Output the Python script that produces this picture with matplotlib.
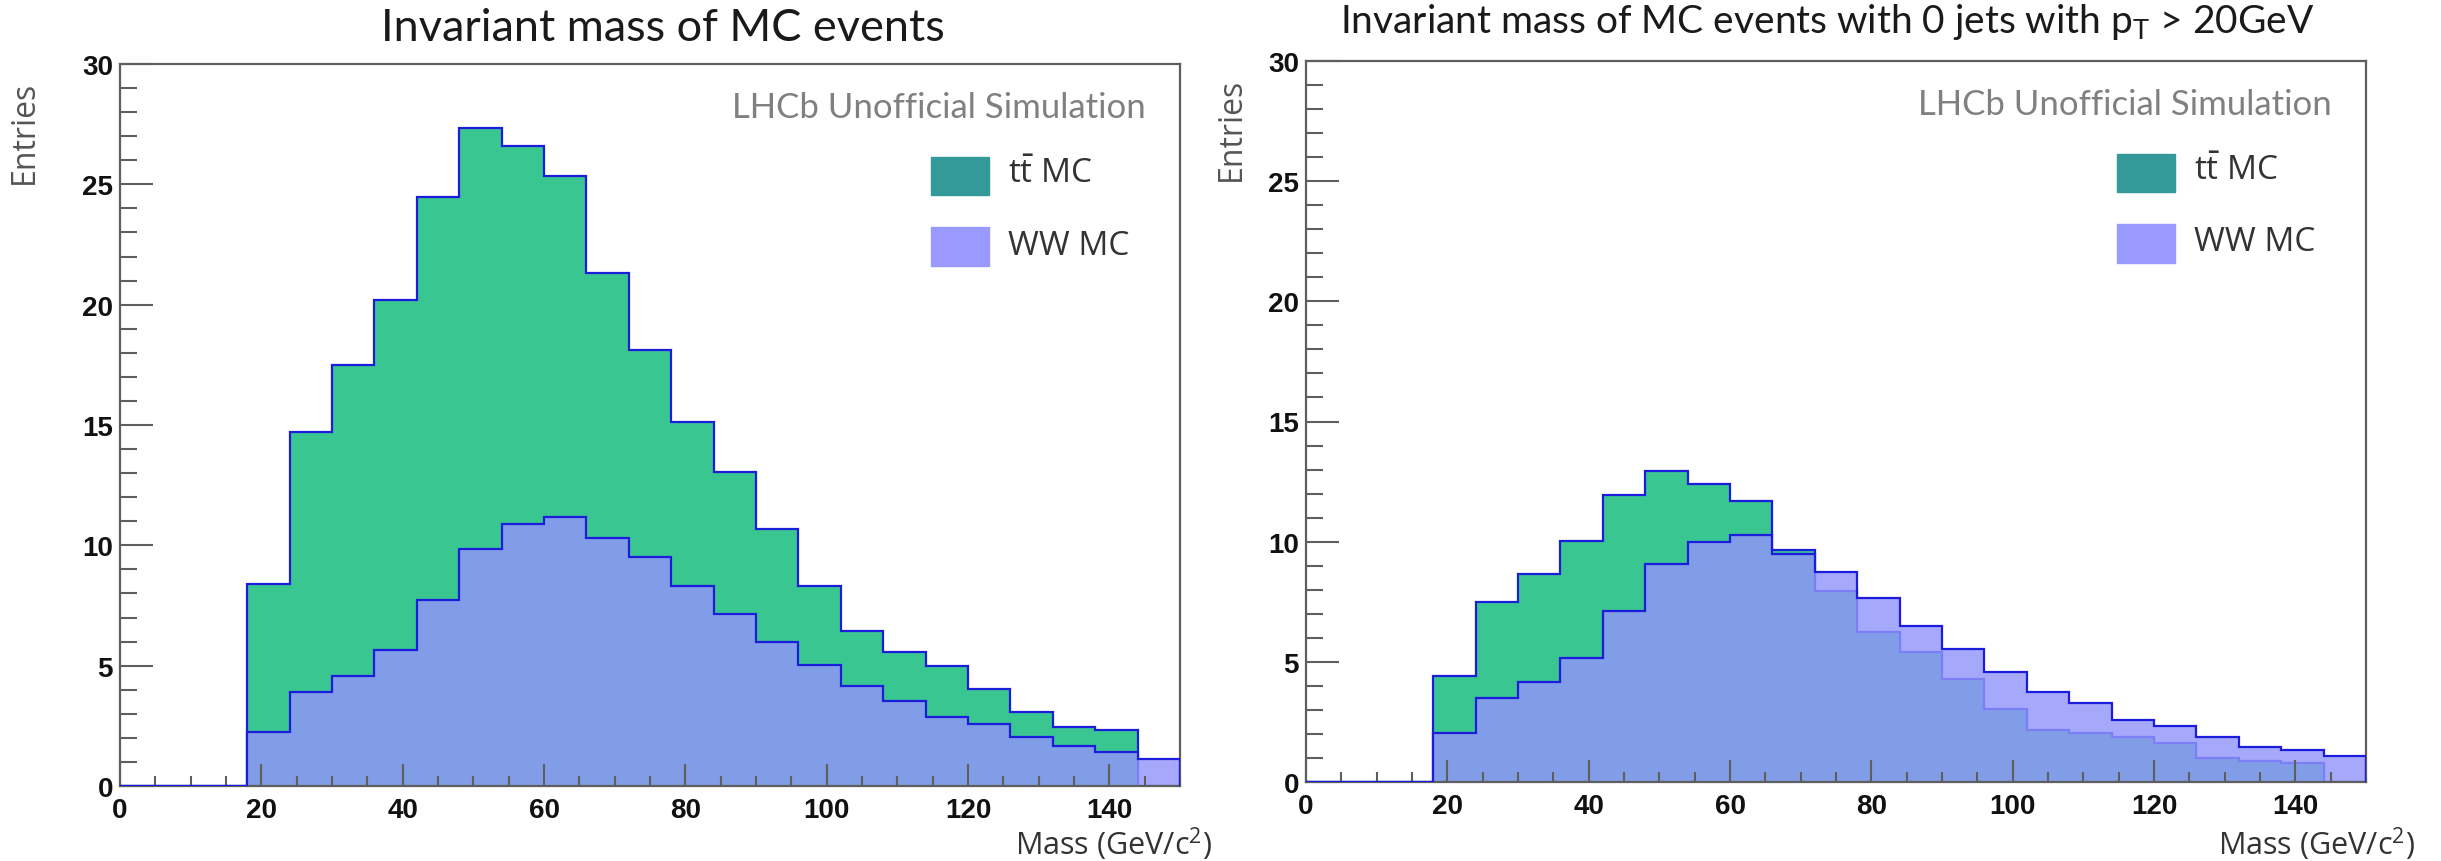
import numpy as np
import matplotlib
matplotlib.use("Agg")
import matplotlib.pyplot as plt
from matplotlib.ticker import MultipleLocator
from matplotlib.patches import Rectangle

# ---------------- data ----------------
bin_edges = np.arange(0, 151, 6)  # 25 bins of 6 GeV from 0 to 150

ttbar_all = [0, 0, 0, 8.40, 14.69, 17.48, 20.18, 24.49, 27.35, 26.61, 25.35, 21.33, 18.12,
             15.13, 13.04, 10.66, 8.33, 6.45, 5.58, 4.99, 4.05, 3.07, 2.45, 2.31, 0]
ww_all = [0, 0, 0, 2.24, 3.89, 4.55, 5.67, 7.71, 9.86, 10.89, 11.17, 10.30, 9.50,
          8.33, 7.16, 6.00, 5.01, 4.16, 3.52, 2.86, 2.56, 2.04, 1.65, 1.40, 1.14]

ttbar_0jet = [0, 0, 0, 4.39, 7.50, 8.65, 10.01, 11.93, 12.94, 12.38, 11.68, 9.65, 7.96,
              6.23, 5.40, 4.29, 3.05, 2.18, 2.05, 1.86, 1.61, 0.99, 0.87, 0.79, 0]
ww_0jet = [0, 0, 0, 2.04, 3.50, 4.16, 5.16, 7.10, 9.06, 9.99, 10.26, 9.50, 8.73,
           7.65, 6.48, 5.53, 4.58, 3.74, 3.28, 2.58, 2.34, 1.86, 1.47, 1.33, 1.09]

titles = ["Invariant mass of MC events",
          r"Invariant mass of MC events with 0 jets with p$_{\mathregular{T}}$ > 20GeV"]
legend_labels = [r"t$\bar{\mathregular{t}}$ MC", "WW MC"]
watermark = "LHCb Unofficial Simulation"
xlabel = r"Mass (GeV/c$^{\mathregular{2}}$)"
ylabel = "Entries"

# ---------------- style ----------------
GREEN = "#3ac690"
WW_COL = "#9295fb"
LINE = "#1c1cdc"
LEG_TT = "#339999"
LEG_WW = "#9999ff"
AXC = "#5e5e5e"

fig = plt.figure(figsize=(24.41, 8.62), dpi=100)
ax_l = fig.add_axes([120 / 2441, 75 / 862, 1060 / 2441, 722 / 862])
ax_r = fig.add_axes([1306 / 2441, 79 / 862, 1060 / 2441, 721 / 862])

panels = [
    (ax_l, ttbar_all, ww_all, titles[0], 32.5, (0.512, 1.051), (-0.0906, 0.907), (1.030, -0.079)),
    (ax_r, ttbar_0jet, ww_0jet, titles[1], 28, (0.4915, 1.055), (-0.070, 0.906), (1.046, -0.085)),
]

for ax, tt, ww, title, tsize, tpos, ypos, xpos in panels:
    ax.stairs(tt, bin_edges, fill=True, color=GREEN, zorder=1.0)
    ax.stairs(tt, bin_edges, color=LINE, lw=1.6, zorder=1.1)
    ax.stairs(ww, bin_edges, fill=True, color=WW_COL, alpha=0.82, zorder=1.2)
    ax.stairs(ww, bin_edges, color=LINE, lw=1.6, zorder=3)

    ax.set_xlim(0, 150)
    ax.set_ylim(0, 30)
    ax.xaxis.set_major_locator(MultipleLocator(20))
    ax.xaxis.set_minor_locator(MultipleLocator(5))
    ax.yaxis.set_major_locator(MultipleLocator(5))
    ax.yaxis.set_minor_locator(MultipleLocator(1))
    ax.tick_params(axis="both", which="both", direction="in", colors=AXC,
                   top=False, right=False, width=1.5)
    ax.tick_params(axis="y", which="major", length=23.5, pad=5)
    ax.tick_params(axis="y", which="minor", length=12)
    ax.tick_params(axis="x", which="major", length=16, pad=8)
    ax.tick_params(axis="x", which="minor", length=7.5)
    for lab in ax.get_xticklabels() + ax.get_yticklabels():
        lab.set_fontfamily("Liberation Sans")
        lab.set_fontweight("bold")
        lab.set_fontsize(20)
        lab.set_color("#111111")
    for sp in ax.spines.values():
        sp.set_color(AXC)
        sp.set_linewidth(1.6)

    ax.text(tpos[0], tpos[1], title, transform=ax.transAxes, ha="center", va="center",
            fontfamily="Lato", fontsize=tsize, color="#1a1a1a")
    ax.text(0.968, 0.940, watermark, transform=ax.transAxes, ha="right", va="center",
            fontfamily="Lato", fontsize=25, color="#808080")

    # legend boxes
    ax.add_patch(Rectangle((0.765, 0.8186), 0.0547, 0.0524, transform=ax.transAxes,
                           color=LEG_TT, zorder=4))
    ax.add_patch(Rectangle((0.765, 0.720), 0.0547, 0.054, transform=ax.transAxes,
                           color=LEG_WW, zorder=4))
    ax.text(0.838, 0.848, legend_labels[0], transform=ax.transAxes, ha="left", va="center",
            fontfamily="Open Sans", fontsize=24, color="#333333")
    ax.text(0.838, 0.749, legend_labels[1], transform=ax.transAxes, ha="left", va="center",
            fontfamily="Open Sans", fontsize=24, color="#333333")

    ax.text(ypos[0], ypos[1], ylabel, transform=ax.transAxes, rotation=90,
            ha="center", va="center", fontfamily="Open Sans", fontsize=23, color="#555555")
    ax.text(xpos[0], xpos[1], xlabel, transform=ax.transAxes, ha="right", va="center",
            fontfamily="Open Sans", fontsize=22, color="#333333")

fig.savefig("out.png", dpi=100)
